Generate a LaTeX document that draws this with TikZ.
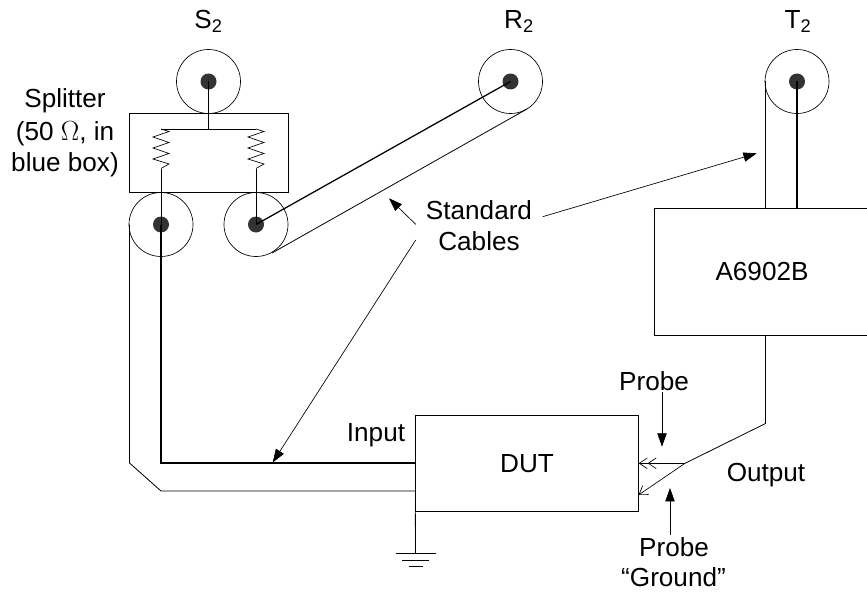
\documentclass[tikz,border=0pt]{standalone}
\usepackage{fontspec}
\setmainfont{Liberation Sans}
\usetikzlibrary{arrows.meta}
\tikzset{
	lbl/.style={font=\fontsize{19.6}{24}\selectfont,align=center,anchor=base,inner sep=0pt},
	jack/.style={circle,draw,minimum size=48pt,inner sep=0pt,line width=.5pt},
	pin/.style={circle,fill=black!80,minimum size=12pt,inner sep=0pt},
	thin wire/.style={line width=.6pt},
	thick wire/.style={line width=.95pt},
	note/.style={line width=.5pt,-{Triangle[length=10pt,width=7pt]}},
	barb/.style={line width=.5pt,-{Straight Barb[length=6pt,width=8pt]}},
	dbarb/.style={line width=.5pt,-{Straight Barb[length=6pt,width=8pt,sep=0pt]Straight Barb[length=6pt,width=8pt]}},
	res/.style={line width=.5pt}
}
\begin{document}
\begin{tikzpicture}[x=.75pt,y=-.75pt]
	\useasboundingbox (0,0) rectangle (867,592);
	% connectors
	\node [jack] (S) at (208.5,81.5) {};
	\node [jack] (R) at (510.5,81.5) {};
	\node [jack] (T) at (797,81.5) {};
	\node [jack] (A) at (161,224.5) {};
	\node [jack] (B) at (256,224.5) {};
	\node [pin] (Sp) at (S) {};
	\node [pin] (Rp) at (R) {};
	\node [pin] (Tp) at (T) {};
	\node [pin] (Ap) at (A) {};
	\node [pin] (Bp) at (B) {};
	% boxes
	\node [draw,line width=.5pt,minimum width=119pt,minimum height=59.6pt,inner sep=0pt] (split) at (208.75,152.75) {};
	\node [draw,line width=.5pt,minimum width=167pt,minimum height=71.6pt,inner sep=0pt,lbl,anchor=center] (dut) at (527,463.25) {DUT};
	\node [draw,line width=.5pt,minimum width=162pt,minimum height=95pt,inner sep=0pt,lbl,anchor=center] (amp) at (762,272) {A6902B};
	% inside the splitter
	\coordinate (top) at (208.5,129);
	\coordinate (rl) at (161,129);
	\coordinate (rr) at (256,129);
	\draw [thin wire] (Sp.center)--(top);
	\draw [thin wire] (rl)--(rr);
	\foreach \xr/\name in {161/rl,256/rr}{
		\draw [res] (\name)--(\xr+8,131.5)--(\xr-8,137)--(\xr+8,142.5)--(\xr-8,148)--(\xr+8,153.5)--(\xr-8,159)--(\xr+8,164)--(\xr,168.5);
	}
	\draw [thin wire] (161,168.5)--(Ap.center);
	\draw [thin wire] (256,168.5)--(Bp.center);
	% cables
	\coordinate (inA) at (dut.west |- 0,463);
	\coordinate (inB) at (dut.west |- 0,491);
	\coordinate (bendA) at (Ap.center |- inA);
	\coordinate (bendB) at (Ap.center |- inB);
	\coordinate (outer) at (129.5,224.5);
	\coordinate (outerb) at (129.5,463);
	\draw [thick wire] (Ap.center)--(bendA)--(inA);
	\draw [thin wire] (outer)--(outerb)--(bendB)--(inB);
	\draw [thick wire] (Bp.center)--(Rp.center);
	\coordinate (bt) at (272,253);
	\coordinate (rt) at (527,109);
	\draw [thin wire] (bt)--(rt);
	\coordinate (tl) at (765.5,81.5);
	\coordinate (tlb) at (tl |- amp.north);
	\coordinate (tc) at (Tp.center |- amp.north);
	\draw [thin wire] (tl)--(tlb);
	\draw [thick wire] (Tp.center)--(tc);
	% output and probe
	\coordinate (outa) at (tl |- amp.south);
	\coordinate (outb) at (765.5,423.5);
	\coordinate (outc) at (685,463.3);
	\coordinate (pa) at (dut.east |- outc);
	\coordinate (pb) at (638.5,495);
	\draw [thin wire] (outa)--(outb)--(outc);
	\draw [dbarb] (outc)--(pa);
	\draw [barb] (outc)--(pb);
	% ground
	\coordinate (gnd) at (dut.south west);
	\coordinate (gnda) at (415.5,553.5);
	\draw [thin wire] (gnd)--(gnda);
	\draw [thin wire] (395.5,553.5)--(435.5,553.5);
	\draw [thin wire] (402,560)--(429,560);
	\draw [thin wire] (408.5,566.5)--(422.5,566.5);
	% labels
	\node [lbl] (Sl) at (208.5,28.5) {S\textsubscript{2}};
	\node [lbl] (Rl) at (519,28.5) {R\textsubscript{2}};
	\node [lbl] (Tl) at (798,28.5) {T\textsubscript{2}};
	\node [lbl] (spl) at (65,107.7) {Splitter};
	\node [lbl] (spm) at (65,140) {(50 $\Omega$, in};
	\node [lbl] (spn) at (65,171.7) {blue box)};
	\node [lbl] (std) at (479,219) {Standard};
	\node [lbl] (cab) at (479,250.7) {Cables};
	\node [lbl] (inl) at (376,441.7) {Input};
	\node [lbl] (outl) at (766,481.7) {Output};
	\node [lbl] (prb) at (654,390) {Probe};
	\node [lbl] (prg) at (674,556.7) {Probe};
	\node [lbl] (grd) at (673.5,586) {``Ground''};
	% arrows
	\coordinate (n1) at (415.7,224.3);
	\coordinate (n1e) at (389,198.3);
	\coordinate (n2) at (415.7,240);
	\coordinate (n2e) at (272.7,462.5);
	\coordinate (n3) at (542.7,216.7);
	\coordinate (n3e) at (756.7,153.3);
	\draw [note] (n1)--(n1e);
	\draw [note] (n2)--(n2e);
	\draw [note] (n3)--(n3e);
	\coordinate (p1) at (662,392);
	\coordinate (p1e) at (662,446.7);
	\coordinate (p2) at (670,535);
	\coordinate (p2e) at (670,488);
	\draw [note] (p1)--(p1e);
	\draw [note] (p2)--(p2e);
\end{tikzpicture}
\end{document}
